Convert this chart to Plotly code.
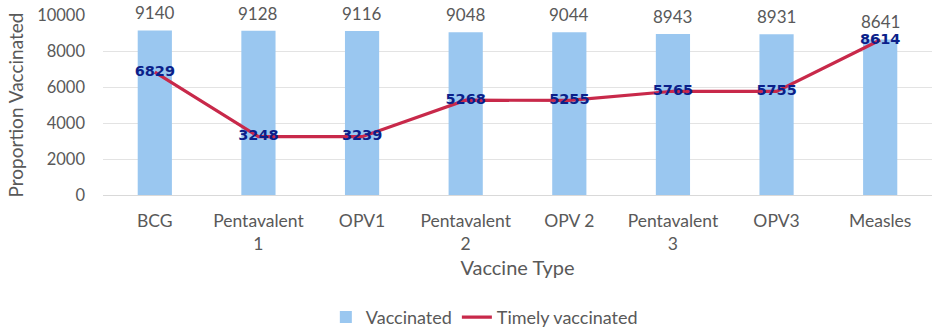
import plotly.graph_objects as go

vaccines = ["BCG", "Pentavalent<br>1", "OPV1", "Pentavalent<br>2", "OPV 2",
            "Pentavalent<br>3", "OPV3", "Measles"]
vaccinated = [9140, 9128, 9116, 9048, 9044, 8943, 8931, 8641]
timely = [6829, 3248, 3239, 5268, 5255, 5765, 5755, 8614]

FONT = "Lato, Open Sans, Arial"
GREY = "#595959"

fig = go.Figure()
fig.add_trace(go.Bar(
    x=vaccines, y=vaccinated, name="Vaccinated",
    marker=dict(color="#9ac7f0", line=dict(width=0)),
    width=0.33,
))
fig.add_trace(go.Scatter(
    x=vaccines, y=timely, name="Timely vaccinated",
    mode="lines+text",
    line=dict(color="#c8294a", width=3.2),
    text=[str(v) for v in timely], textposition="middle center",
    textfont=dict(family="DejaVu Sans, Arial", size=14.5, color="#0b1f8a", weight="bold"),
    cliponaxis=False,
))

# value labels above each bar
for cat, val in zip(vaccines, vaccinated):
    fig.add_annotation(
        x=cat, y=val, text=str(val), showarrow=False,
        yanchor="bottom", yshift=5,
        font=dict(family=FONT, size=17, color=GREY),
    )

fig.update_layout(
    width=947, height=331,
    margin=dict(l=103, r=15, t=15, b=136, autoexpand=False),
    plot_bgcolor="white", paper_bgcolor="white",
    font=dict(family=FONT, color=GREY, size=15),
    bargap=0.67,
    showlegend=True,
    legend=dict(orientation="h", x=0.46, xanchor="center", y=-0.68, yanchor="middle",
                font=dict(family=FONT, size=18, color=GREY)),
    xaxis=dict(
        title=dict(text="Vaccine Type", font=dict(family=FONT, size=20, color=GREY), standoff=8),
        tickfont=dict(family=FONT, size=17.5, color=GREY),
        showline=True, linecolor="#d9d9d9", linewidth=1,
        ticks="", showgrid=False, automargin=False, ticklabelstandoff=10,
    ),
    yaxis=dict(
        title=dict(text="Proportion Vaccinated", font=dict(family=FONT, size=19, color=GREY), standoff=8),
        range=[0, 10000], dtick=2000, tickformat="d",
        tickfont=dict(family=FONT, size=16.5, color=GREY),
        gridcolor="#e3e3e3", gridwidth=1, zeroline=False,
        ticks="", ticklabelstandoff=17, automargin=False,
    ),
)

fig.write_html("out.html")
